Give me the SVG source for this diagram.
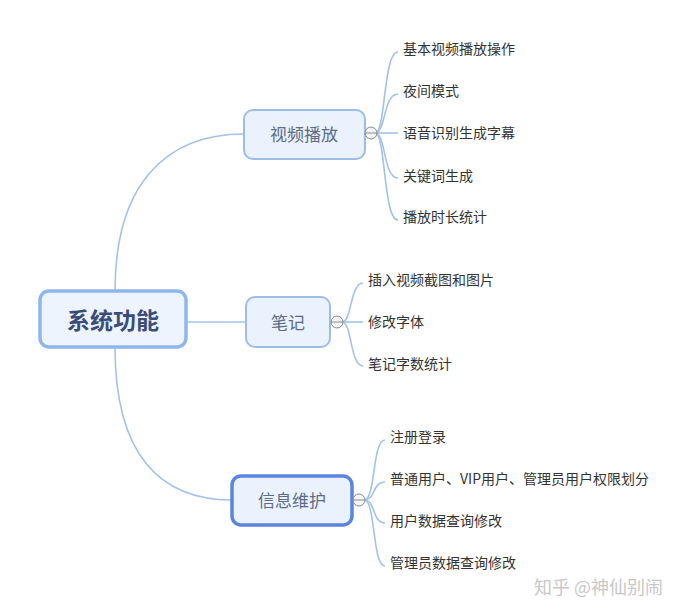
<svg xmlns="http://www.w3.org/2000/svg" width="699" height="615" viewBox="0 0 699 615">
<style>
.root{fill:#eef4fd;stroke:#8db6ec;stroke-width:3.5}
.br{fill:#eaf2fd;stroke:#9dbde6;stroke-width:2}
.sel{fill:#eaf2fd;stroke:#5b84e0;stroke-width:3.5}
.con{fill:none;stroke:#a3c2ea;stroke-width:1.6}
.tog{fill:#f6f6f6;stroke:#8a8a8a;stroke-width:1}
.rt{font-family:"Noto Sans CJK SC","Noto Sans",sans-serif;font-size:23px;font-weight:bold;fill:#3a4d78;text-anchor:middle;dominant-baseline:central}
.bt{font-family:"Noto Sans CJK SC","Noto Sans",sans-serif;font-size:17px;fill:#5d6b87;text-anchor:middle;dominant-baseline:central}
.lt{font-family:"Noto Sans CJK SC","Noto Sans",sans-serif;font-size:14px;fill:#333;dominant-baseline:central}
.wm{font-family:"Noto Sans CJK SC","Noto Sans",sans-serif;font-size:18px;fill:#c8c8c8;dominant-baseline:central}
</style>
<rect width="699" height="615" fill="#ffffff"/>
<g id="connectors">
<path class="con" d="M115 291 C115 185 165 134 244 134"/>
<path class="con" d="M186 322 L246 322"/>
<path class="con" d="M115 347 C115 455 160 500 232 500"/>
<path class="con" d="M375 133 C386 133 383 52 398 52"/>
<path class="con" d="M375 133 C386 133 383 94 398 94"/>
<path class="con" d="M375 133 L398 133"/>
<path class="con" d="M375 133 C386 133 383 178 398 178"/>
<path class="con" d="M375 133 C386 133 383 220 398 220"/>
<path class="con" d="M342 322 C352 322 350 283 363 283"/>
<path class="con" d="M342 322 L363 322"/>
<path class="con" d="M342 322 C352 322 350 366 363 366"/>
<path class="con" d="M364 500 C376 500 372 440 385 440"/>
<path class="con" d="M364 500 C376 500 372 482 385 482"/>
<path class="con" d="M364 500 C376 500 372 523 385 523"/>
<path class="con" d="M364 500 C376 500 372 566 385 566"/>
</g>
<g id="root"><rect class="root" x="40" y="291" width="146" height="56" rx="9"/><text class="rt" x="113" y="319">系统功能</text></g>
<g id="n1"><rect class="br" x="244" y="110" width="121" height="49" rx="9"/><text class="bt" x="304" y="133">视频播放</text><circle class="tog" cx="371" cy="133" r="6"/><line x1="365" y1="133" x2="377" y2="133" stroke="#8a8a8a"/></g>
<g id="n2"><rect class="br" x="246" y="297" width="84" height="50" rx="9"/><text class="bt" x="288" y="321">笔记</text><circle class="tog" cx="337" cy="322" r="6"/><line x1="331" y1="322" x2="343" y2="322" stroke="#8a8a8a"/></g>
<g id="n3"><rect class="sel" x="232" y="476" width="120" height="49" rx="9"/><text class="bt" x="292" y="499">信息维护</text><circle class="tog" cx="359" cy="500" r="6"/><line x1="353" y1="500" x2="365" y2="500" stroke="#8a8a8a"/></g>
<g id="l1"><text class="lt" x="403" y="48">基本视频播放操作</text></g>
<g id="l2"><text class="lt" x="403" y="90">夜间模式</text></g>
<g id="l3"><text class="lt" x="403" y="132">语音识别生成字幕</text></g>
<g id="l4"><text class="lt" x="403" y="175">关键词生成</text></g>
<g id="l5"><text class="lt" x="403" y="216">播放时长统计</text></g>
<g id="l6"><text class="lt" x="368" y="279">插入视频截图和图片</text></g>
<g id="l7"><text class="lt" x="368" y="321">修改字体</text></g>
<g id="l8"><text class="lt" x="368" y="363">笔记字数统计</text></g>
<g id="l9"><text class="lt" x="390" y="436">注册登录</text></g>
<g id="l10"><text class="lt" x="390" y="478">普通用户、VIP用户、管理员用户权限划分</text></g>
<g id="l11"><text class="lt" x="390" y="520">用户数据查询修改</text></g>
<g id="l12"><text class="lt" x="390" y="562">管理员数据查询修改</text></g>
<text class="wm" x="534" y="586">知乎 @神仙别闹</text>
</svg>
